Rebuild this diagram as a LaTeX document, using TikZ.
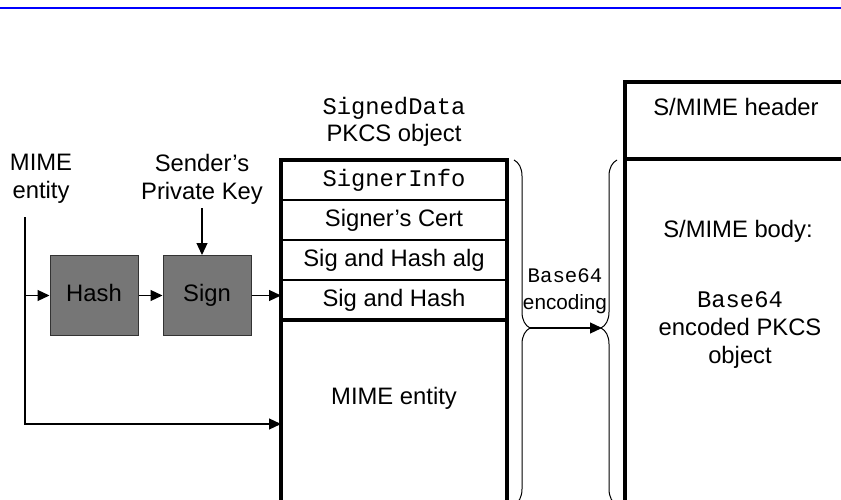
\documentclass[tikz,border=0pt]{standalone}
\usepackage{fontspec}
\setmainfont{Liberation Sans}
\setmonofont{Liberation Mono}
\usetikzlibrary{positioning,calc,arrows.meta,decorations.pathreplacing}
\definecolor{boxgray}{RGB}{118,118,118}
\newcommand{\figfont}{\fontsize{23.8}{28}\selectfont}
\newcommand{\figsmall}{\fontsize{20.7}{27}\selectfont}

\begin{document}
\begin{tikzpicture}[x=1pt, y=-1pt,
    lbl/.style={inner sep=0, align=center, font=\figfont},
    proc/.style={rectangle, draw=black!80, fill=boxgray, line width=1pt, minimum width=88pt, minimum height=80pt, inner sep=0, text height=17pt, text depth=5pt, font=\figfont},
    cell/.style={rectangle, draw, line width=1.2pt, minimum width=226pt, minimum height=40pt, inner sep=0, outer sep=0, font=\figfont},
    bigbox/.style={rectangle, draw, line width=3.5pt, minimum width=223pt, inner sep=0, outer sep=0},
    frame/.style={draw, line width=3.5pt},
    arr/.style={-{Triangle[length=12pt,width=11pt]}, line width=1.2pt},
    curly/.style={decorate, decoration={brace, amplitude=16pt, aspect=#1}, line width=1pt}]
  \useasboundingbox (0,0) rectangle (841,500);
  \clip (0,0) rectangle (841,500);
  \draw[blue, line width=1.3pt] (0,8) -- (841,8);

  % Hash and Sign steps
  \node[proc] (hash) at (94,295.5) {Hash};
  \node[proc, right=24pt of hash] (sign) {Sign};
  \node[lbl] (mimelbl) at (41,179) {MIME\\entity};
  \node[lbl] (senderlbl) at (202,179) {Sender's\\Private Key};

  % SignedData object
  \node[lbl] (pkcslbl) at (394,121.5) {\texttt{SignedData}\\[-1pt]PKCS object};
  \node[cell, font=\figfont\ttfamily] (signerinfo) at (394,180) {SignerInfo};
  \node[cell, below=0pt of signerinfo] (cert) {Signer's Cert};
  \node[cell, below=0pt of cert] (alg) {Sig and Hash alg};
  \node[cell, below=0pt of alg] (sighash) {Sig and Hash};
  \node[lbl] (mimeent) at (394,398.5) {MIME entity};
  \coordinate (objbot) at (507,520);
  \draw[frame] (signerinfo.north west) rectangle (objbot);
  \draw[frame] (sighash.south west) -- (sighash.south east);

  % S/MIME message
  \node[bigbox, minimum height=77pt] (header) at (736.5,120.5) {};
  \node[bigbox, minimum height=361pt, below=0pt of header] (body) {};
  \node[lbl] (hdrlbl) at (736,107) {S/MIME header};
  \node[lbl] (bodylbl) at (738,231) {S/MIME body:};
  \node[lbl] (enclbl) at (740,330.5) {\texttt{Base64}\\encoded PKCS\\object};

  % Base64 encoding
  \draw[curly=0.487] (514,160) -- (514,505);
  \draw[curly=0.513] (617,505) -- (617,160);
  \coordinate (ltip) at (530,328);
  \coordinate (rtip) at (602,328);
  \node[lbl, font=\figsmall] (b64lbl) at (565,291.5) {\texttt{Base64}\\encoding};

  % connectors
  \coordinate (mtop) at (25,217);
  \coordinate (mbot) at (25,424);
  \draw[arr] (mtop) -- (mbot) -- (mbot -| signerinfo.west);
  \draw[arr] (mtop |- hash.west) -- (hash.west);
  \draw[arr] (hash) -- (sign);
  \draw[arr] (sign) -- (sign -| sighash.west);
  \draw[arr] ([yshift=-4pt]senderlbl.south) -- (senderlbl.south |- sign.north);
  \draw[arr] (ltip) -- (rtip);
\end{tikzpicture}
\end{document}
